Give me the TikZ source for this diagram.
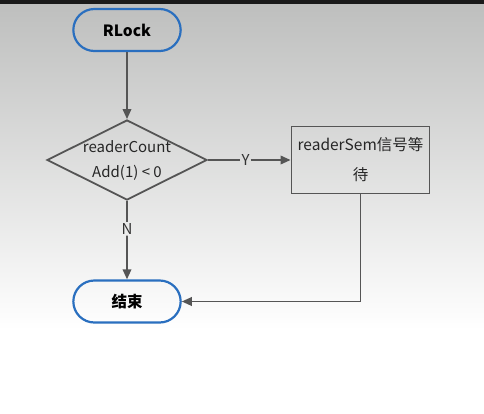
\documentclass[tikz,border=0pt]{standalone}
\usepackage{fontspec}
\setmainfont{Noto Sans CJK SC}
\usetikzlibrary{arrows.meta,positioning,shapes.geometric,shapes.misc}
\definecolor{cterm}{HTML}{2A6FBF}
\definecolor{cline}{HTML}{555555}
\definecolor{cbgtop}{HTML}{BEBFBE}
\definecolor{cstrip}{HTML}{1A1A1A}
\tikzset{
  term/.style={rounded rectangle, draw=cterm, line width=2.2pt, minimum width=114pt, minimum height=42pt, font=\fontsize{15.5}{18}\selectfont\bfseries},
  dec/.style={diamond, draw=cline, line width=1.8pt, minimum width=160pt, minimum height=80pt, inner sep=0pt},
  proc/.style={rectangle, draw=cline, line width=1.8pt, minimum width=138pt, minimum height=67pt, align=center, font=\fontsize{15.5}{30}\selectfont, text=black!85},
  txt/.style={font=\fontsize{15}{25}\selectfont, text=black!85, align=center},
  flow/.style={-{Triangle[length=10pt,width=8.5pt]}, draw=cline, line width=1.8pt},
  seg/.style={draw=cline, line width=1.8pt},
  lbl/.style={font=\fontsize{15}{16}\selectfont, text=black!80, inner sep=1pt},
}
\begin{document}
\begin{tikzpicture}[x=1pt,y=-1pt]
\useasboundingbox (0,0) rectangle (484,413);
% backdrop
\fill[white] (0,0) rectangle (484,413);
\shade[top color=cbgtop, bottom color=white] (0,4) rectangle (484,330);
\fill[cstrip] (0,0) rectangle (484,4);

\node[term] (rlock) at (127,30) {RLock};
\node[dec] (cnt) at (127,160) {};
\node[txt] (cnttxt) at (cnt) {readerCount\\Add(1) < 0};
\node[proc] (sem) at (360.5,160) {readerSem信号等\\待};
\node[term] (stop) at (127,301.5) {结束};
\node[lbl] (y) at (245.5,160) {Y};
\node[lbl] (n) at (127,229) {N};
\coordinate (turn) at (sem.south |- stop.east);

\draw[flow] (rlock) -- (cnt);
\draw[seg] (cnt.east) -- (y);
\draw[flow] (y) -- (sem);
\draw[seg] (cnt.south) -- (n);
\draw[flow] (n) -- (stop);
\draw[flow] (sem.south) -- (turn) -- (stop.east);
\end{tikzpicture}
\end{document}
